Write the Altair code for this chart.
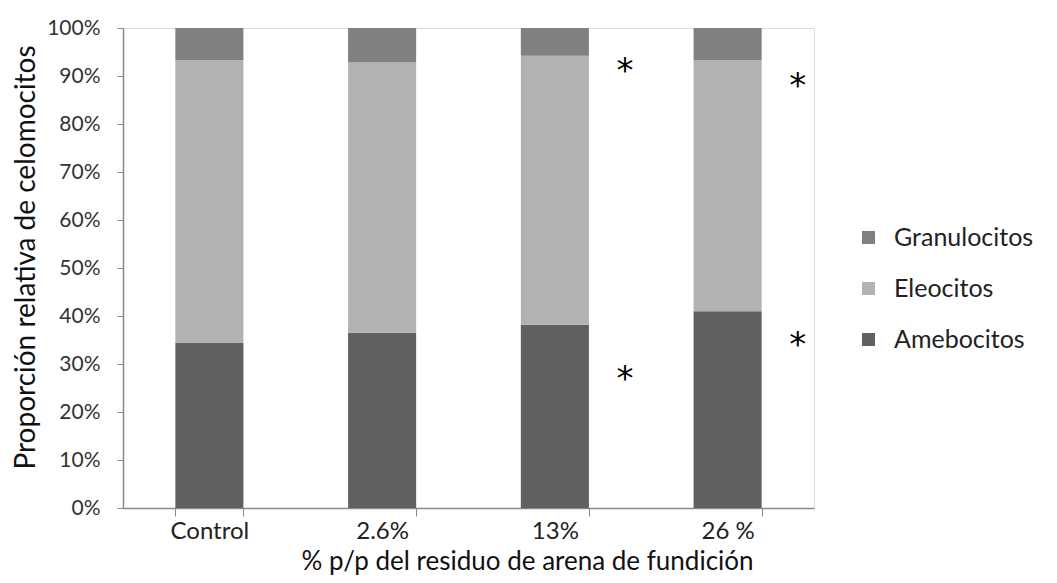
import altair as alt
import pandas as pd

categorias = ["Control", "2.6%", "13%", "26 %"]
amebocitos = [34.4, 36.5, 38.2, 41.0]
eleocitos = [58.9, 56.3, 56.0, 52.3]
granulocitos = [6.7, 7.2, 5.8, 6.7]
tipos = ["Granulocitos", "Eleocitos", "Amebocitos"]
colores = ["#808080", "#b2b2b2", "#606060"]

ast_cat = ["13%", "13%", "26 %", "26 %"]
ast_y = [92.0, 28.0, 89.0, 35.0]

rows = []
for i, c in enumerate(categorias):
    rows.append({"cat": c, "tipo": "Amebocitos", "valor": amebocitos[i], "orden": 0})
    rows.append({"cat": c, "tipo": "Eleocitos", "valor": eleocitos[i], "orden": 1})
    rows.append({"cat": c, "tipo": "Granulocitos", "valor": granulocitos[i], "orden": 2})
df = pd.DataFrame(rows)
ast = pd.DataFrame({"cat": ast_cat, "y": ast_y, "t": ["*"] * len(ast_cat)})

FONT = "Lato"

xenc = alt.X(
    "cat:N",
    sort=categorias,
    scale=alt.Scale(paddingInner=0.606, paddingOuter=0.303),
    axis=alt.Axis(
        title="% p/p del residuo de arena de fundición",
        titleFontSize=26, titleFont=FONT, titleFontWeight="normal", titleColor="#111",
        titleX=404, titleY=53, titleBaseline="middle", titleAlign="center",
        labelFontSize=24, labelFont=FONT, labelColor="#222", labelAngle=0,
        labelPadding=3, tickSize=8, tickBand="extent",
        domainColor="#8a8a8a", tickColor="#8a8a8a", domainWidth=1.5,
    ),
)

bars = alt.Chart(df).mark_bar(stroke=None).encode(
    x=xenc,
    y=alt.Y(
        "valor:Q",
        stack="zero",
        scale=alt.Scale(domain=[0, 100], nice=False),
        axis=alt.Axis(
            title="Proporción relativa de celomocitos",
            titleFontSize=28, titleFont=FONT, titleFontWeight="normal", titleColor="#111",
            titleX=-97, titleY=229, titleAngle=270, titleAlign="center", titleBaseline="middle",
            values=[0, 10, 20, 30, 40, 50, 60, 70, 80, 90, 100],
            labelExpr="datum.value + '%'",
            labelFontSize=21, labelFont=FONT, labelColor="#333",
            labelPadding=17, tickSize=6, grid=False,
            domainColor="#8a8a8a", tickColor="#8a8a8a", domainWidth=1.5,
        ),
    ),
    color=alt.Color(
        "tipo:N",
        scale=alt.Scale(domain=tipos, range=colores),
        legend=alt.Legend(
            title=None, orient="none", legendX=733, legendY=197,
            symbolType="square", symbolSize=169, symbolStrokeWidth=0,
            labelFontSize=25, labelFont=FONT, labelColor="#222",
            rowPadding=25, labelOffset=13,
        ),
    ),
    order=alt.Order("orden:Q"),
)

stars = alt.Chart(ast).mark_text(fontSize=34, font="DejaVu Sans", color="#000", dx=70, dy=6).encode(
    x=alt.X("cat:N", sort=categorias),
    y=alt.Y("y:Q"),
    text="t:N",
)

chart = (
    alt.layer(bars, stars)
    .properties(
        width=691, height=480,
        autosize=alt.AutoSizeParams(type="none"),
        padding={"left": 115, "top": 20, "right": 228, "bottom": 67},
    )
    .configure_view(stroke=None)
    .configure(background="white")
)

chart.save("out.html", embed_options={"renderer": "svg", "actions": False})
